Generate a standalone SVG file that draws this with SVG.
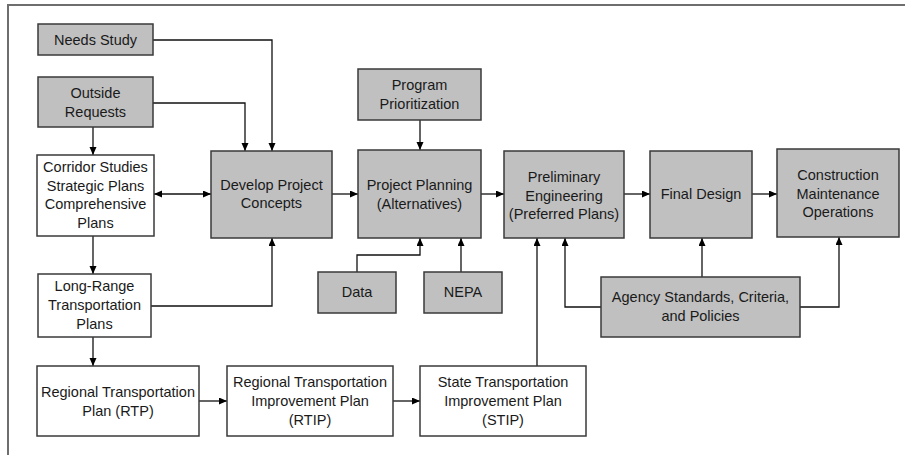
<svg xmlns="http://www.w3.org/2000/svg" width="909" height="455" viewBox="0 0 909 455">
  <style>
    .box { stroke: #3a3a3a; stroke-width: 1.5; }
    .grey { fill: #c0c0c0; }
    .white { fill: #ffffff; }
    text { font-family: "Liberation Sans", Arial, sans-serif; font-size: 14.5px; fill: #1a1a1a; text-anchor: middle; }
    .link { fill: none; stroke: #111; stroke-width: 1.3; marker-end: url(#arrow); }
    .frame { fill: none; stroke: #6e6e6e; stroke-width: 2; }
  </style>
  <defs>
    <marker id="arrow" markerUnits="userSpaceOnUse" markerWidth="9" markerHeight="8" refX="8" refY="3.5" orient="auto-start-reverse">
      <path d="M0,0 L8,3.5 L0,7 z" fill="#000"/>
    </marker>
  </defs>

  <rect width="909" height="455" fill="#ffffff"/>
  <!-- page border (top and left edges) -->
  <path class="frame" d="M8,455 V5 H905"/>

  <!-- connectors -->
  <g id="connectors">
    <path class="link" d="M153,40 H272 V151"/>
    <path class="link" d="M153,103 H245 V151"/>
    <path class="link" d="M93,127 V155"/>
    <path class="link" d="M154,194 H211" marker-start="url(#arrow)"/>
    <path class="link" d="M93,236 V274"/>
    <path class="link" d="M151,306 H272 V238"/>
    <path class="link" d="M93,337 V366"/>
    <path class="link" d="M199,401 H227"/>
    <path class="link" d="M393,401 H420"/>
    <path class="link" d="M537,366 V238"/>
    <path class="link" d="M332,194 H358"/>
    <path class="link" d="M420,120 V150"/>
    <path class="link" d="M357,272 V255 H420 V238"/>
    <path class="link" d="M461,272 V238"/>
    <path class="link" d="M481,194 H504"/>
    <path class="link" d="M601,307 H565 V238"/>
    <path class="link" d="M624,194 H650"/>
    <path class="link" d="M702,277 V238"/>
    <path class="link" d="M752,194 H777"/>
    <path class="link" d="M800,307 H839 V237"/>
  </g>

  <g id="needs-study">
    <rect class="box grey" x="38" y="24" width="115" height="31"/>
    <text x="95.5" y="45">Needs Study</text>
  </g>
  <g id="outside-requests">
    <rect class="box grey" x="38" y="77" width="115" height="50"/>
    <text x="95.5" y="98">Outside</text>
    <text x="95.5" y="117">Requests</text>
  </g>
  <g id="corridor-studies">
    <rect class="box white" x="37" y="155" width="117" height="81"/>
    <text x="95.5" y="172">Corridor Studies</text>
    <text x="95.5" y="191">Strategic Plans</text>
    <text x="95.5" y="209">Comprehensive</text>
    <text x="95.5" y="228">Plans</text>
  </g>
  <g id="long-range-plans">
    <rect class="box white" x="38" y="274" width="113" height="63"/>
    <text x="94.5" y="291">Long-Range</text>
    <text x="94.5" y="310">Transportation</text>
    <text x="94.5" y="329">Plans</text>
  </g>
  <g id="rtp">
    <rect class="box white" x="37" y="366" width="162" height="70"/>
    <text x="118" y="397">Regional Transportation</text>
    <text x="118" y="416">Plan (RTP)</text>
  </g>
  <g id="rtip">
    <rect class="box white" x="227" y="366" width="166" height="70"/>
    <text x="310" y="387">Regional Transportation</text>
    <text x="310" y="406">Improvement Plan</text>
    <text x="310" y="425">(RTIP)</text>
  </g>
  <g id="stip">
    <rect class="box white" x="420" y="366" width="166" height="70"/>
    <text x="503" y="387">State Transportation</text>
    <text x="503" y="406">Improvement Plan</text>
    <text x="503" y="425">(STIP)</text>
  </g>
  <g id="develop-concepts">
    <rect class="box grey" x="211" y="151" width="121" height="87"/>
    <text x="271.5" y="190">Develop Project</text>
    <text x="271.5" y="208">Concepts</text>
  </g>
  <g id="program-prioritization">
    <rect class="box grey" x="358" y="69" width="123" height="51"/>
    <text x="419.5" y="90">Program</text>
    <text x="419.5" y="109">Prioritization</text>
  </g>
  <g id="project-planning">
    <rect class="box grey" x="358" y="150" width="123" height="88"/>
    <text x="419.5" y="190">Project Planning</text>
    <text x="419.5" y="209">(Alternatives)</text>
  </g>
  <g id="data">
    <rect class="box grey" x="318" y="272" width="78" height="41"/>
    <text x="357" y="297">Data</text>
  </g>
  <g id="nepa">
    <rect class="box grey" x="424" y="272" width="78" height="41"/>
    <text x="463" y="297">NEPA</text>
  </g>
  <g id="preliminary-engineering">
    <rect class="box grey" x="504" y="151" width="120" height="87"/>
    <text x="564" y="182">Preliminary</text>
    <text x="564" y="201">Engineering</text>
    <text x="564" y="219">(Preferred Plans)</text>
  </g>
  <g id="final-design">
    <rect class="box grey" x="650" y="151" width="102" height="87"/>
    <text x="701" y="199">Final Design</text>
  </g>
  <g id="construction">
    <rect class="box grey" x="777" y="149" width="122" height="88"/>
    <text x="838" y="180">Construction</text>
    <text x="838" y="199">Maintenance</text>
    <text x="838" y="217">Operations</text>
  </g>
  <g id="agency-standards">
    <rect class="box grey" x="601" y="277" width="199" height="60"/>
    <text x="700.5" y="302">Agency Standards, Criteria,</text>
    <text x="700.5" y="321">and Policies</text>
  </g>
</svg>
